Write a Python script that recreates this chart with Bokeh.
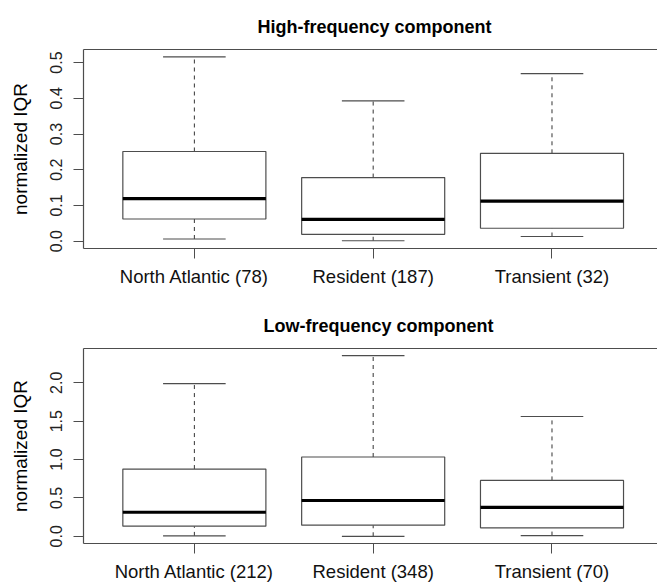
import numpy as np
from bokeh.plotting import figure
from bokeh.layouts import column
from bokeh.models import Range1d, FixedTicker, LinearAxis, NumeralTickFormatter
from bokeh.embed import file_html
from bokeh.resources import INLINE

# ---- data ----
hf_labels = ["North Atlantic (78)", "Resident (187)", "Transient (32)"]
hf_low = [0.006, 0.001, 0.013]
hf_q1 = [0.062, 0.019, 0.036]
hf_med = [0.119, 0.061, 0.112]
hf_q3 = [0.251, 0.178, 0.246]
hf_high = [0.516, 0.393, 0.469]
hf_yticks = [0.0, 0.1, 0.2, 0.3, 0.4, 0.5]

lf_labels = ["North Atlantic (212)", "Resident (348)", "Transient (70)"]
lf_low = [0.005, 0.0, 0.009]
lf_q1 = [0.132, 0.145, 0.110]
lf_med = [0.313, 0.466, 0.377]
lf_q3 = [0.876, 1.033, 0.728]
lf_high = [1.99, 2.353, 1.561]
lf_yticks = [0.0, 0.5, 1.0, 1.5, 2.0]

FONT = "Liberation Sans"
LINE = "#4d4d4d"
BOXW = 0.8
CAPW = 0.35


def panel(title, labels, low, q1, med, q3, high, yticks, height, btop, bbot, title_offset):
    pos = np.arange(1, len(labels) + 1, dtype=float)
    low, q1, med, q3, high = map(np.asarray, (low, q1, med, q3, high))
    span = high.max() - min(low.min(), 0.0)
    ylo = min(low.min(), 0.0) - 0.04 * span
    yhi = high.max() + 0.04 * span

    p = figure(width=657, height=height, output_backend="svg", toolbar_location=None,
               x_range=Range1d(0.38, 3.59), y_range=Range1d(ylo, yhi),
               x_axis_location=None, y_axis_location=None,
               min_border_left=83, min_border_right=0,
               min_border_top=btop, min_border_bottom=bbot)
    p.outline_line_color = None
    p.grid.visible = False
    p.background_fill_color = "white"
    p.border_fill_color = "white"

    # title
    p.title.text = title
    p.title.text_font = FONT
    p.title.text_font_size = "18px"
    p.title.text_font_style = "bold"
    p.title.text_color = "black"
    p.title.align = "left"
    p.title.offset = title_offset
    p.title.standoff = 26

    # whiskers (dashed) and caps
    p.segment(pos, q3, pos, high, line_color="#333333", line_width=1, line_dash="4 4")
    p.segment(pos, low, pos, q1, line_color="#333333", line_width=1, line_dash="4 4")
    p.segment(pos - CAPW / 2, high, pos + CAPW / 2, high, line_color=LINE, line_width=1.2)
    p.segment(pos - CAPW / 2, low, pos + CAPW / 2, low, line_color=LINE, line_width=1.2)
    # boxes
    p.vbar(x=pos, width=BOXW, bottom=q1, top=q3, fill_color="white",
           line_color=LINE, line_width=1.2)
    # medians
    p.segment(pos - BOXW / 2, med, pos + BOXW / 2, med, line_color="black", line_width=3.2)

    # left axis
    ya = LinearAxis(ticker=FixedTicker(ticks=yticks),
                    formatter=NumeralTickFormatter(format="0.0"))
    ya.axis_label = "normalized IQR"
    ya.axis_label_text_font = FONT
    ya.axis_label_text_font_size = "19px"
    ya.axis_label_text_font_style = "normal"
    ya.axis_label_text_color = "black"
    ya.axis_label_standoff = 17
    ya.major_label_orientation = "parallel"
    ya.major_label_text_font = FONT
    ya.major_label_text_font_size = "16px"
    ya.major_label_text_color = "#222222"
    ya.major_label_standoff = 11
    ya.major_tick_out = 10
    ya.major_tick_in = 0
    ya.minor_tick_out = 0
    ya.minor_tick_in = 0
    ya.axis_line_color = LINE
    ya.major_tick_line_color = LINE
    ya.axis_line_width = 1.2
    p.add_layout(ya, "left")

    # bottom axis
    xa = LinearAxis(ticker=FixedTicker(ticks=list(pos)))
    xa.major_label_overrides = {float(v): lab for v, lab in zip(pos, labels)}
    xa.major_label_overrides.update({int(v): lab for v, lab in zip(pos, labels)})
    xa.major_label_text_font = FONT
    xa.major_label_text_font_size = "18.5px"
    xa.major_label_text_color = "#111111"
    xa.major_label_standoff = 7
    xa.major_tick_out = 10
    xa.major_tick_in = 0
    xa.minor_tick_out = 0
    xa.minor_tick_in = 0
    xa.axis_line_color = LINE
    xa.major_tick_line_color = LINE
    xa.axis_line_width = 1.2
    p.add_layout(xa, "below")

    # top frame line
    ta = LinearAxis(ticker=FixedTicker(ticks=[]))
    ta.major_label_text_font_size = "0px"
    ta.major_tick_out = 0
    ta.major_tick_in = 0
    ta.minor_tick_out = 0
    ta.minor_tick_in = 0
    ta.major_label_standoff = 0
    ta.axis_line_color = LINE
    ta.axis_line_width = 1.2
    p.add_layout(ta, "above")
    return p


p1 = panel("High-frequency component", hf_labels, hf_low, hf_q1, hf_med, hf_q3, hf_high,
           hf_yticks, 292, 49, 44, 174)
p2 = panel("Low-frequency component", lf_labels, lf_low, lf_q1, lf_med, lf_q3, lf_high,
           lf_yticks, 292, 56, 36, 180)

layout = column(p1, p2, spacing=0)
open("out.html", "w").write(file_html(layout, INLINE))
